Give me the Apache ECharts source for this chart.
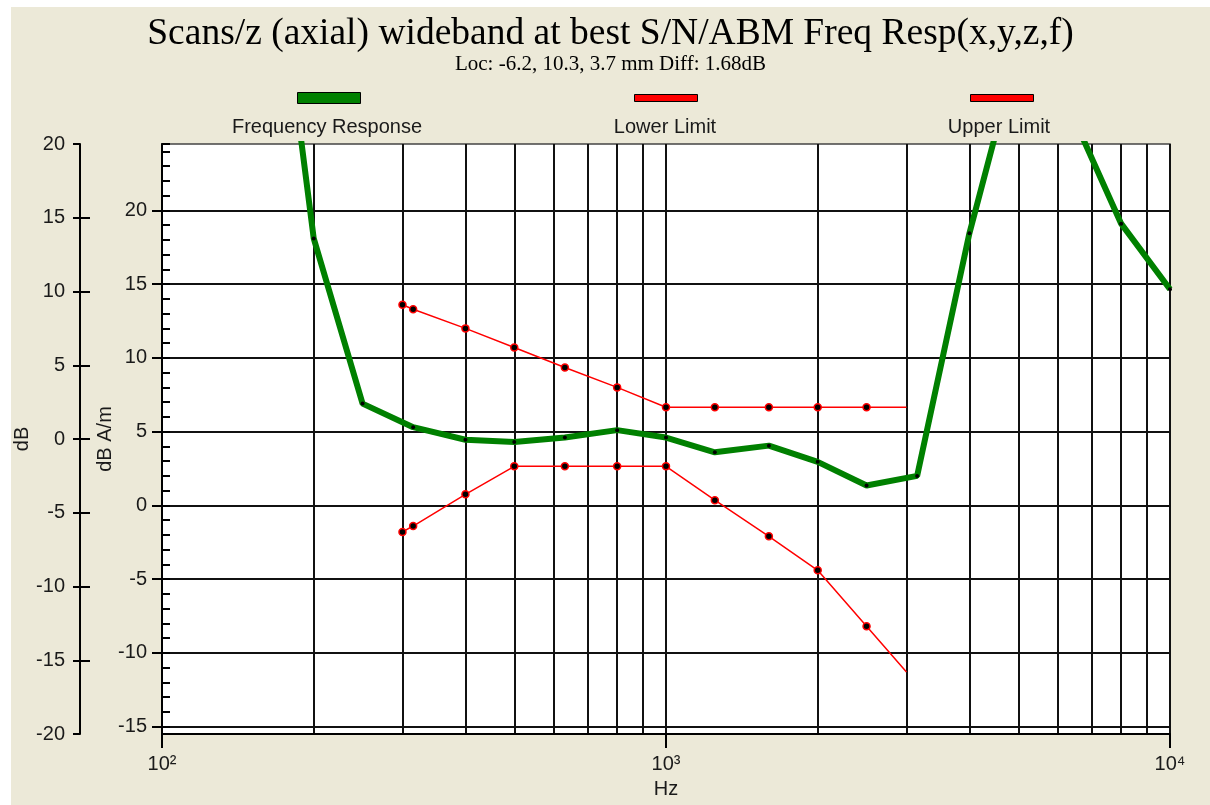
<!DOCTYPE html>
<html>
<head>
<meta charset="utf-8">
<script src="https://cdn.jsdelivr.net/npm/echarts@6/dist/echarts.min.js"></script>
<style>
  body { margin: 0; background: #fff; }
  #chart { position: absolute; left: 11px; top: 7px; width: 1199px; height: 798px; background: #ECE9D8; }
</style>
</head>
<body>
<div id="chart"></div>
<script type="text/javascript">

var titleText = 'Scans/z (axial) wideband at best S/N/ABM Freq Resp(x,y,z,f)';
var subText = 'Loc: -6.2, 10.3, 3.7 mm Diff: 1.68dB';
var seriesNames = ['Frequency Response', 'Lower Limit', 'Upper Limit'];

// 频率响应 (Hz / dB A/m)
var respFreq = [160, 200, 250, 315, 400, 500, 630, 800, 1000, 1250, 1600, 2000, 2500, 3150, 4000, 5000, 6300, 8000, 10000];
var respDb   = [44, 18.1, 6.9, 5.3, 4.45, 4.3, 4.6, 5.1, 4.6, 3.6, 4.05, 2.95, 1.35, 2.0, 18.45, 31, 27, 19.1, 14.65];

// 上下限
var limitFreq = [300, 315, 400, 500, 630, 800, 1000, 1250, 1600, 2000, 2500, 3000];
var lowerDb   = [-1.8, -1.4, 0.75, 2.65, 2.65, 2.65, 2.65, 0.35, -2.1, -4.4, -8.2, -11.3];
var upperDb   = [13.6, 13.3, 12.0, 10.7, 9.35, 8.0, 6.65, 6.65, 6.65, 6.65, 6.65, 6.65];

// 刻度
var xTickExp = [2, 3, 4];
var xTickLabels = ['10²', '10³', '10⁴'];
var xMinorGrid = [200, 300, 400, 500, 600, 700, 800, 900, 2000, 3000, 4000, 5000, 6000, 7000, 8000, 9000];
var innerTicks = [-15, -10, -5, 0, 5, 10, 15, 20];
var outerInnerTicks = [-15, -10, -5, 0, 5, 10, 15];

var legendX = [316, 654, 988];
var legendIconLeft = [286, 623, 959];
var seriesColors = ['#008000', '#ff0000', '#ff0000'];

function pairs(xs, ys) {
	var out = [];
	for (var i = 0; i < xs.length; i++) {
		out.push([xs[i], ys[i]]);
	}
	return out;
}
// 最后一个点没有标记
function limitPairs(xs, ys) {
	var out = pairs(xs, ys);
	out[out.length - 1] = { value: out[out.length - 1], symbol: 'none' };
	return out;
}

var font = 'Liberation Sans, Arial, sans-serif';
var labelStyle = { color: '#1a1a1a', fontFamily: font, fontSize: 20 };

var myChart = echarts.init(document.getElementById('chart'));
var option = {
	animation: false,
	title: [{
		text: titleText, left: 'center', top: 8, padding: 0,
		textStyle: { fontFamily: 'Liberation Serif, Times New Roman, serif', fontSize: 37.5, fontWeight: 'normal', color: '#000' }
	}, {
		text: subText, left: 'center', top: 47, padding: 0,
		textStyle: { fontFamily: 'Liberation Serif, Times New Roman, serif', fontSize: 21, fontWeight: 'normal', color: '#000' }
	}],
	legend: seriesNames.map(function (n, i) {
		return {
			data: [{ name: n, itemStyle: { color: seriesColors[i], borderColor: '#000', borderWidth: 1 } }],
			left: legendIconLeft[i], top: i === 0 ? 85 : 87,
			icon: 'rect', itemWidth: 63, itemHeight: i === 0 ? 11 : 7,
			selectedMode: false, padding: 0,
			formatter: function () { return ''; }
		};
	}),
	graphic: seriesNames.map(function (n, i) {
		return {
			type: 'text', x: legendX[i], y: 120, silent: true,
			style: { text: n, fill: '#1a1a1a', font: '20px ' + font, align: 'center', textAlign: 'center', verticalAlign: 'middle', textVerticalAlign: 'middle' }
		};
	}),
	grid: {
		left: 151, top: 137, right: 40, bottom: 71,
		containLabel: false, outerBoundsMode: 'none',
		show: true, backgroundColor: '#fff', borderColor: '#444', borderWidth: 1.5
	},
	xAxis: [{
		type: 'log', logBase: 10, min: 100, max: 10000, position: 'bottom',
		name: 'Hz', nameLocation: 'middle', nameGap: 45, nameMoveOverlap: false, nameTextStyle: labelStyle,
		axisLine: { onZero: false, lineStyle: { color: '#000', width: 2 } },
		axisTick: { show: true, length: 14, lineStyle: { color: '#000', width: 2 } },
		axisLabel: {
			margin: 20, color: '#1a1a1a', fontFamily: font, fontSize: 20,
			formatter: function (v) { return xTickLabels[xTickExp.indexOf(Math.round(Math.log10(v)))]; }
		},
		splitLine: { show: true, lineStyle: { color: '#111', width: 2 } },
		minorTick: { show: false }
	}, {
		type: 'log', logBase: 10, min: 100, max: 10000, position: 'bottom', offset: 0,
		axisLine: { show: false, onZero: false },
		axisTick: { show: false, customValues: xMinorGrid },
		axisLabel: { show: false },
		splitLine: { show: true, lineStyle: { color: '#111', width: 2 } }
	}],
	yAxis: [{
		// dB A/m 主刻度
		type: 'value', min: -15.5, max: 24.5, splitNumber: 8, position: 'left', offset: 0,
		name: 'dB A/m', nameLocation: 'middle', nameGap: 47, nameMoveOverlap: false, nameTextStyle: labelStyle,
		axisLine: { show: true, onZero: false, lineStyle: { color: '#000', width: 2 } },
		axisTick: { show: true, length: 10, customValues: innerTicks, lineStyle: { color: '#000', width: 2 } },
		axisLabel: { margin: 15, customValues: innerTicks, color: '#1a1a1a', fontFamily: font, fontSize: 20 },
		splitLine: { show: true, lineStyle: { color: '#111', width: 2 } }
	}, {
		// dB A/m 次刻度
		type: 'value', min: -15.5, max: 24.5, splitNumber: 40, position: 'left', offset: 0,
		axisLine: { show: false, onZero: false },
		axisTick: { show: true, inside: true, length: 8, lineStyle: { color: '#000', width: 2 } },
		axisLabel: { show: false },
		splitLine: { show: false }
	}, {
		// dB
		type: 'value', min: -20, max: 20, interval: 5, position: 'left', offset: 82,
		name: 'dB', nameLocation: 'middle', nameGap: 48, nameMoveOverlap: false, nameTextStyle: labelStyle,
		axisLine: { show: true, onZero: false, lineStyle: { color: '#000', width: 2 } },
		axisTick: { show: true, length: 7, lineStyle: { color: '#000', width: 2 } },
		axisLabel: { margin: 15, color: '#1a1a1a', fontFamily: font, fontSize: 20 },
		splitLine: { show: false }
	}, {
		type: 'value', min: -20, max: 20, interval: 5, position: 'left', offset: 82,
		axisLine: { show: false, onZero: false },
		axisTick: { show: true, inside: true, length: 10, customValues: outerInnerTicks, lineStyle: { color: '#000', width: 2 } },
		axisLabel: { show: false },
		splitLine: { show: false }
	}],
	series: [{
		name: seriesNames[1], type: 'line', xAxisIndex: 0, yAxisIndex: 0,
		data: limitPairs(limitFreq, lowerDb),
		symbol: 'circle', symbolSize: 7, silent: true,
		lineStyle: { color: '#ff0000', width: 1.5 },
		itemStyle: { color: '#000', borderColor: '#ff0000', borderWidth: 1.5 },
		emphasis: { disabled: true }, z: 3
	}, {
		name: seriesNames[2], type: 'line', xAxisIndex: 0, yAxisIndex: 0,
		data: limitPairs(limitFreq, upperDb),
		symbol: 'circle', symbolSize: 7, silent: true,
		lineStyle: { color: '#ff0000', width: 1.5 },
		itemStyle: { color: '#000', borderColor: '#ff0000', borderWidth: 1.5 },
		emphasis: { disabled: true }, z: 3
	}, {
		name: seriesNames[0], type: 'line', xAxisIndex: 0, yAxisIndex: 0,
		data: pairs(respFreq, respDb),
		symbol: 'circle', symbolSize: 4, silent: true,
		lineStyle: { color: '#008000', width: 6 },
		itemStyle: { color: '#000' },
		emphasis: { disabled: true }, z: 4
	}]
};
myChart.setOption(option);

</script>
</body>
</html>
